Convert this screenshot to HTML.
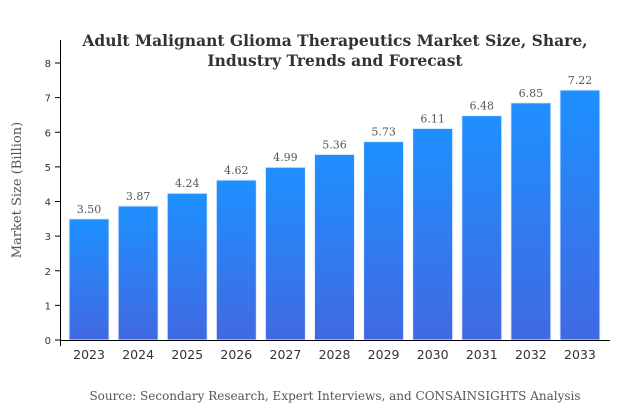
<!DOCTYPE html>
<html><head><meta charset="utf-8"><style>
body{margin:0;background:#fff;}
svg{display:block;}
</style></head><body>
<svg width="630" height="410" xmlns="http://www.w3.org/2000/svg">
<defs><linearGradient id="g" x1="0" y1="0" x2="0" y2="1"><stop offset="0" stop-color="#1e90ff"/><stop offset="1" stop-color="#4169e1"/></linearGradient></defs>
<text x="335" y="46" text-anchor="middle" font-family="'DejaVu Serif','Liberation Serif',serif" font-weight="bold" font-size="15.5" fill="#333">Adult Malignant Glioma Therapeutics Market Size, Share,</text>
<text x="335" y="66" text-anchor="middle" font-family="'DejaVu Serif','Liberation Serif',serif" font-weight="bold" font-size="15.5" fill="#333">Industry Trends and Forecast</text>
<text transform="translate(21,190) rotate(-90)" text-anchor="middle" font-family="'DejaVu Serif','Liberation Serif',serif" font-size="13" fill="#555">Market Size (Billion)</text>
<text x="335" y="400" text-anchor="middle" font-family="'DejaVu Serif','Liberation Serif',serif" font-size="12" fill="#555">Source: Secondary Research, Expert Interviews, and CONSAINSIGHTS Analysis</text>
<g id="plot"></g>
</svg>
<script>
const categories=["2023","2024","2025","2026","2027","2028","2029","2030","2031","2032","2033"];
const values=[3.50,3.87,4.24,4.62,4.99,5.36,5.73,6.11,6.48,6.85,7.22];
const yTicks=[0,1,2,3,4,5,6,7,8];
const NS="http://www.w3.org/2000/svg";
const g=document.getElementById('plot');
const x0=64.5,x1=604.5,y0=340,y1=63,ymax=8;
const step=(x1-x0)/categories.length;
const bw=40;
const y=v=>y0-(v/ymax)*(y0-y1);
const xc=i=>x0+step*(i+0.5);
function mk(t,a){const e=document.createElementNS(NS,t);for(const k in a)e.setAttribute(k,a[k]);g.appendChild(e);return e;}
yTicks.forEach(t=>{
 const l=mk('line',{x1:55,x2:60.5,y1:y(t),y2:y(t),stroke:'#000'});
 
 
 const tx=mk('text',{x:51,y:y(t)+4,'text-anchor':'end','font-family':"'DejaVu Sans','Liberation Sans',sans-serif",'font-size':'10',fill:'#333'});
 tx.textContent=t;
 
 
});
categories.forEach((c,i)=>{
 const r=mk('rect',{x:xc(i)-bw/2,y:y(values[i]),width:bw,height:y0-y(values[i]),fill:'url(#g)',stroke:'#e6f0ff','stroke-width':1});
 
 
 const v=mk('text',{x:xc(i),y:y(values[i])-6,'text-anchor':'middle','font-family':"'DejaVu Serif','Liberation Serif',serif",'font-size':'11',fill:'#555'});
 v.textContent=values[i].toFixed(2);
 
 
 const t=mk('text',{x:xc(i),y:359,'text-anchor':'middle','font-family':"'DejaVu Sans','Liberation Sans',sans-serif",'font-size':'12.5',fill:'#333'});
 t.textContent=c;
 
 
});
const ya=mk('line',{x1:60.5,x2:60.5,y1:40,y2:340.5,stroke:'#000'});


const xa=mk('line',{x1:60,x2:610,y1:340.5,y2:340.5,stroke:'#000'});


const xt=mk('line',{x1:60.5,x2:60.5,y1:340,y2:346,stroke:'#000'});


</script>
</body></html>
